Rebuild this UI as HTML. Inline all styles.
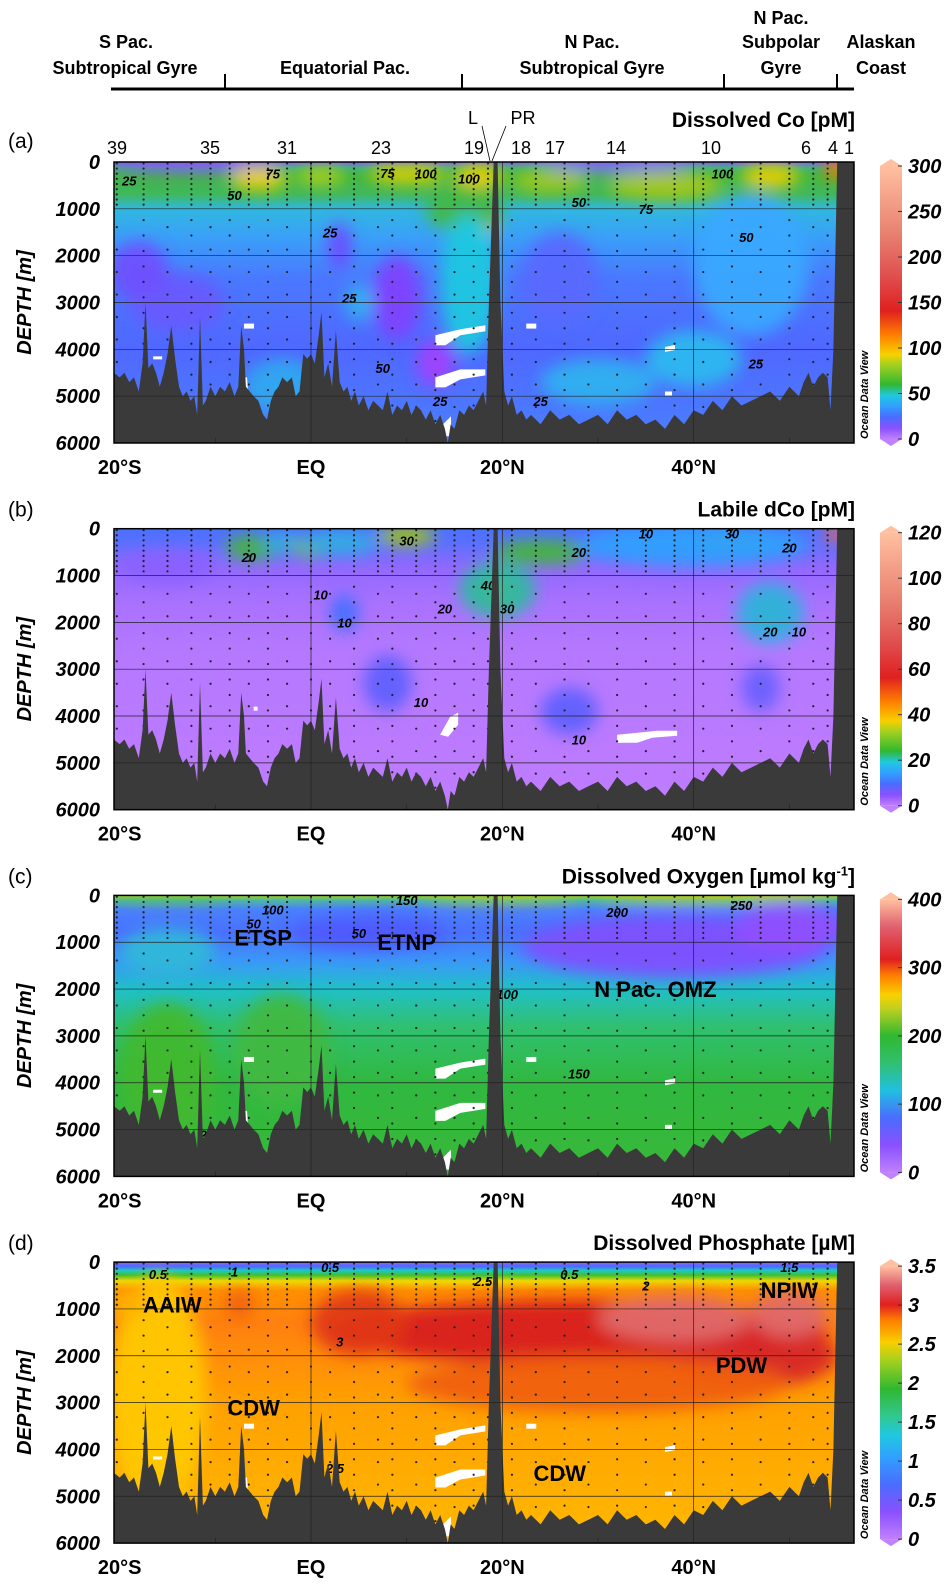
<!DOCTYPE html>
<html><head><meta charset="utf-8">
<style>
html,body{margin:0;padding:0;background:#fff;}
svg{display:block;font-family:"Liberation Sans",Arial,sans-serif;}
</style></head>
<body>
<svg id="fig" width="948" height="1587" viewBox="0 0 948 1587" xmlns="http://www.w3.org/2000/svg">
<defs>
<filter id="blur" x="-50%" y="-50%" width="200%" height="200%"><feGaussianBlur stdDeviation="8"/></filter>
<linearGradient id="cmapab" x1="0" y1="1" x2="0" y2="0">
<stop offset="0" stop-color="#c080ff"/><stop offset="0.04" stop-color="#8a50ff"/><stop offset="0.08" stop-color="#4a6cff"/>
<stop offset="0.12" stop-color="#30a0ff"/><stop offset="0.16" stop-color="#20c8e0"/><stop offset="0.2" stop-color="#30b830"/>
<stop offset="0.27" stop-color="#a0d020"/><stop offset="0.31" stop-color="#f8d000"/><stop offset="0.38" stop-color="#ff8000"/>
<stop offset="0.47" stop-color="#e02020"/><stop offset="0.6" stop-color="#e05050"/><stop offset="0.75" stop-color="#e88070"/>
<stop offset="1" stop-color="#ffc0a0"/>
</linearGradient>
<linearGradient id="cmapc" x1="0" y1="1" x2="0" y2="0">
<stop offset="0" stop-color="#c080ff"/><stop offset="0.1" stop-color="#8a50ff"/><stop offset="0.2" stop-color="#4a6cff"/>
<stop offset="0.3" stop-color="#20c0e0"/><stop offset="0.4" stop-color="#30c070"/><stop offset="0.5" stop-color="#30b830"/>
<stop offset="0.6" stop-color="#c0d020"/><stop offset="0.65" stop-color="#f8d000"/><stop offset="0.72" stop-color="#ff8000"/>
<stop offset="0.78" stop-color="#e02020"/><stop offset="0.9" stop-color="#e06070"/><stop offset="1" stop-color="#ffc0a0"/>
</linearGradient>
<linearGradient id="cmapd" x1="0" y1="1" x2="0" y2="0">
<stop offset="0" stop-color="#c080ff"/><stop offset="0.1" stop-color="#8a50ff"/><stop offset="0.2" stop-color="#4a6cff"/>
<stop offset="0.3" stop-color="#30a0ff"/><stop offset="0.38" stop-color="#20c8e0"/><stop offset="0.45" stop-color="#30c890"/>
<stop offset="0.55" stop-color="#30b830"/><stop offset="0.65" stop-color="#a0d020"/><stop offset="0.72" stop-color="#f8d000"/>
<stop offset="0.8" stop-color="#ff8000"/><stop offset="0.86" stop-color="#e02020"/><stop offset="0.93" stop-color="#e06070"/>
<stop offset="1" stop-color="#ffc0a0"/>
</linearGradient>
</defs>
<g font-weight="bold" font-size="18" text-anchor="middle" fill="#000">
<text x="126" y="48">S Pac.</text>
<text x="125" y="74">Subtropical Gyre</text>
<text x="345" y="74">Equatorial Pac.</text>
<text x="592" y="48">N Pac.</text>
<text x="592" y="74">Subtropical Gyre</text>
<text x="781" y="24">N Pac.</text>
<text x="781" y="48">Subpolar</text>
<text x="781" y="74">Gyre</text>
<text x="881" y="48">Alaskan</text>
<text x="881" y="74">Coast</text>
<line x1="111" y1="89" x2="854" y2="89" stroke="#000" stroke-width="3"/>
<g stroke="#000" stroke-width="2">
<line x1="225" y1="74" x2="225" y2="89"/><line x1="462" y1="74" x2="462" y2="89"/>
<line x1="724" y1="74" x2="724" y2="89"/><line x1="837" y1="74" x2="837" y2="89"/></g>
</g>
<g font-size="18" text-anchor="middle">
<text x="117" y="154">39</text><text x="210" y="154">35</text><text x="287" y="154">31</text><text x="381" y="154">23</text>
<text x="474" y="154">19</text><text x="521" y="154">18</text><text x="555" y="154">17</text><text x="616" y="154">14</text>
<text x="711" y="154">10</text><text x="806" y="154">6</text><text x="833" y="154">4</text><text x="849" y="154">1</text>
<text x="473" y="124">L</text><text x="523" y="124">PR</text>
<line x1="482" y1="126" x2="490" y2="161" stroke="#000" stroke-width="0.8"/>
<line x1="506" y1="126" x2="492" y2="161" stroke="#000" stroke-width="0.8"/>
</g>
<g id="panels"></g>
</svg>
<script>
// bathymetry (lat, depth m)
const bathLat=[-21,-20.6,-20,-19.5,-19,-18.5,-18,-17.6,-17.3,-17,-16.6,-16.2,-15.8,-15.4,-15,-14.6,-14.2,-13.8,-13.4,-13,-12.6,-12.2,-11.9,-11.6,-11.3,-11,-10.5,-10,-9.5,-9,-8.5,-8,-7.6,-7.3,-7,-6.8,-6.4,-6,-5.5,-5,-4.6,-4.2,-3.8,-3.4,-3,-2.5,-2,-1.6,-1.2,-0.8,-0.4,0,0.4,0.8,1.1,1.4,1.8,2.2,2.6,3,3.4,3.8,4.2,4.6,5,5.5,6,6.5,7,7.5,8,8.5,9,9.5,10,10.5,11,11.5,12,12.5,13,13.5,14,14.3,14.6,15,15.5,16,16.5,17,17.5,18,18.3,18.6,19.1,19.5,19.8,20.2,20.6,21,21.5,22,22.5,23,24,25,26,27,28,29,30,31,32,33,34,35,36,37,38,39,40,41,42,43,44,45,46,47,48,49,50,51,51.5,52,52.5,53,53.5,54,54.3,54.6,55,57];
const bathDep=[4500,4500,4600,4500,4700,4600,4900,4300,3000,4400,4300,4500,4800,4500,4100,3500,4200,4800,5000,4900,5100,5000,5400,3300,5200,5100,4800,5000,4800,4900,4700,5000,4800,3500,4000,4800,4900,5000,5100,5400,5500,5100,4900,4800,4600,4700,4600,5000,4900,4100,4200,4100,4300,3700,3200,4600,4300,4800,3600,4700,4900,4800,5100,4900,5200,5000,5300,5100,5200,5300,4900,5400,5200,5300,5100,5400,5200,5300,5500,5300,5600,5400,5700,6000,5600,5700,5300,5400,5200,5300,5100,4900,5200,3000,0,0,3000,4900,5200,5000,5400,5300,5500,5400,5600,5300,5500,5400,5600,5500,5400,5600,5300,5500,5400,5600,5500,5700,5400,5600,5300,5400,5100,5300,5000,5200,5100,5000,4900,5100,4800,5000,4700,4500,4800,4600,4500,4600,5300,4000,0,0];
// station positions (lat)
const stationLats=[-20.3,-17.5,-15,-12.5,-10.5,-8.5,-6.5,-4.5,-2.5,0,2,4.5,7,8.5,11,13,15,17,18.5,21,23.5,26.5,29,32,35,38,41,44,47,50,52.5,54];
// colorbar ticks
const ticksA=[0,50,100,150,200,250,300];
const ticksB=[0,20,40,60,80,100,120];
const ticksC=[0,100,200,300,400];
const ticksD=[0,0.5,1,1.5,2,2.5,3,3.5];
const depthTicks=[0,1000,2000,3000,4000,5000,6000];
const latTicks=[-20,0,20,40];
const latTickLabels=['20°S','EQ','20°N','40°N'];

const NS='http://www.w3.org/2000/svg';
const X0=311, PXDEG=9.567, LEFT=114, RIGHT=854, H=281;
function xs(lat){return X0+lat*PXDEG;}
function ys(top,d){return top+d/6000*H;}
function mk(tag,attrs,parent){const e=document.createElementNS(NS,tag);for(const k in attrs)e.setAttribute(k,attrs[k]);parent.appendChild(e);return e;}

const panels=[
 {id:'a',title:'Dissolved Co [pM]',ticks:ticksA,max:300,cmap:'cmapab',
  grad:[[0,'#8858ff'],[120,'#40b080'],[300,'#40b840'],[700,'#40b860'],[1000,'#30b8e0'],[1600,'#3aa0f8'],[2500,'#4a78ff'],[4000,'#5068ff'],[6000,'#4a80ff']],
  blobs:[[-12,60,9,150,'#9050ff'],[32,60,8,150,'#8a60ff'],[-5.5,350,3,250,'#f0d000'],[1,300,2.5,200,'#b0d020'],[10,250,4,200,'#e8d000'],[17.5,300,2.5,250,'#f0d000'],[18,1250,1.5,300,'#e8c000'],[16,1000,4,500,'#40b840'],[25,400,4,250,'#a0c820'],[37,500,6,300,'#a8c820'],[48,300,3,250,'#f0d000'],[55,150,1.5,200,'#ff7000'],
   [9,2900,2.5,900,'#8040ff'],[13,4300,2,500,'#a040ff'],[3,1800,1.2,500,'#7048ff'],[-14,3000,5,600,'#6858ff'],[-18,2300,3,600,'#7050ff'],[16.5,2600,3,1500,'#20c8e0'],[5,3000,1.5,400,'#30b0f0'],[26,2500,4,1000,'#5868ff'],[46,2200,6,1500,'#3aa8ff'],[-3,4800,4,600,'#30a8f0'],[30,4700,6,500,'#30b0f0'],[40,4200,5,600,'#2ab8f0']],
  labels:[[-19,390,'25'],[-8,700,'50'],[-4,250,'75'],[8,230,'75'],[12,250,'100'],[16.5,350,'100'],[2,1500,'25'],[4,2900,'25'],[7.5,4400,'50'],[13.5,5100,'25'],[24,5100,'25'],[28,850,'50'],[35,1000,'75'],[43,250,'100'],[45.5,1600,'50'],[46.5,4300,'25']],
  whites:true},
 {id:'b',title:'Labile dCo [pM]',ticks:ticksB,max:120,cmap:'cmapab',
  grad:[[0,'#4a70ff'],[300,'#5a70ff'],[800,'#9068ff'],[1500,'#a870ff'],[2500,'#b478ff'],[6000,'#c07cff']],
  blobs:[[-6,400,3,250,'#40b830'],[-3,300,2,200,'#30b0e0'],[0,400,2,200,'#70c020'],[10,150,3,200,'#a8c800'],[3,300,4,250,'#30b0e0'],[19.5,1350,2,350,'#f0b000'],[19.5,1300,4,600,'#30b8a0'],[24,500,5,250,'#40b830'],[44,250,4,250,'#60c030'],[55,100,1.5,150,'#ff6040'],[48,1750,1.8,350,'#60b020'],[48,1800,3.5,650,'#30b0e0'],[40,350,12,450,'#30a0ff'],
   [3.5,1800,1.5,400,'#4070ff'],[8,3300,2.5,600,'#6060ff'],[27,3900,3,500,'#6060ff'],[47,3400,2,500,'#6a60ff'],[-15,800,5,350,'#8a60ff']],
  labels:[[-6.5,600,'20'],[1,1400,'10'],[3.5,2000,'10'],[10,250,'30'],[11.5,3700,'10'],[14,1700,'20'],[18.5,1200,'40'],[20.5,1700,'30'],[28,500,'20'],[28,4500,'10'],[35,100,'10'],[44,100,'30'],[48,2200,'20'],[51,2200,'10'],[50,400,'20']],
  whites:false},
 {id:'c',title:'Dissolved Oxygen [µmol kg',ticks:ticksC,max:400,cmap:'cmapc',
  grad:[[0,'#a0d020'],[100,'#50b8a0'],[300,'#4a80ff'],[800,'#4a70ff'],[1400,'#3a98f8'],[2000,'#20c0c8'],[2800,'#30c070'],[4000,'#30b840'],[6000,'#38b838']],
  blobs:[[42,40,12,80,'#f0d000'],[20,40,8,80,'#c8d020'],[-15,40,6,80,'#60c040'],[38,1100,16,650,'#8050ff'],[50,700,6,500,'#9050ff'],[6,800,8,350,'#5058ff'],[-15,1200,5,500,'#30b8d8'],[-15,3800,5,1500,'#40b830'],[-3,3300,5,1200,'#40b840']],
  labels:[[-4,300,'100'],[-6,600,'50'],[5,800,'50'],[10,100,'150'],[32,350,'200'],[45,200,'250'],[20.5,2100,'100'],[28,3800,'150'],[-10.5,5100,'200']],
  whites:true},
 {id:'d',title:'Dissolved Phosphate [µM]',ticks:ticksD,max:3.5,cmap:'cmapd',
  grad:[[0,'#9a5cff'],[90,'#4a6cff'],[180,'#20c8c0'],[280,'#40c030'],[400,'#f0d800'],[600,'#ff9000'],[1300,'#ff8010'],[3000,'#ffa000'],[6000,'#ffb800']],
  blobs:[[28,1500,26,700,'#d82020'],[5,1300,5,700,'#e03818'],[46,2000,9,700,'#d82828'],[38,1200,8,500,'#e06a6a'],[50,1100,4,500,'#e06a6a'],[30,2600,20,600,'#f06010'],[-16,2800,5,2500,'#ffc800'],[-7.5,900,1.5,300,'#f06010'],[-19,900,2,300,'#ffb000']],
  labels:[[-16,250,'0.5'],[-8,200,'1'],[2,100,'0.5'],[18,400,'2.5'],[27,250,'0.5'],[35,500,'2'],[50,100,'1.5'],[3,1700,'3'],[2.5,4400,'2.5'],[-7,4900,'2.']],
  whites:true}
];
const root=document.getElementById('panels');
panels.forEach((p,i)=>{
 const top=162+i*366.7;
 const g=mk('g',{},root);
 
 
 const cp=mk('clipPath',{id:'clip'+p.id},g);
 mk('rect',{x:LEFT,y:top,width:RIGHT-LEFT,height:H},cp);
 const lg=mk('linearGradient',{id:'bg'+p.id,gradientUnits:'userSpaceOnUse',x1:0,x2:0,y1:top,y2:top+H},g);
 p.grad.forEach(s=>mk('stop',{offset:s[0]/6000,'stop-color':s[1]},lg));
 const field=mk('g',{'clip-path':'url(#clip'+p.id+')'},g);
 
 
 mk('rect',{x:LEFT,y:top,width:RIGHT-LEFT,height:H,fill:'url(#bg'+p.id+')'},field);
 const bl=mk('g',{filter:'url(#blur)'},field);
 p.blobs.forEach(b=>{
  const e=mk('ellipse',{cx:xs(b[0]),cy:ys(top,b[1]),rx:b[2]*PXDEG,ry:b[3]/6000*H,fill:b[4],opacity:0.95},bl);
  
 });
 const wg=mk('g',{fill:'#fff'},field);
 if(p.whites){
  [[13,3700,'M0,0 l25,-6 l25,-4 l0,6 l-25,4 l-15,10 l-10,0z'],[13,4600,'M0,0 l25,-8 l25,0 l0,6 l-25,4 l-15,8 l-10,0z'],[-7,3450,'M0,0 l10,0 l0,5 l-10,0z'],[22.5,3450,'M0,0 l10,0 l0,5 l-10,0z'],[37,3950,'M0,0 l10,-2 l0,5 l-10,2z'],[37,4900,'M0,0 l7,0 l0,4 l-7,0z'],[-16.5,4150,'M0,0 l9,0 l0,3 l-9,0z'],[-7,4600,'M0,0 l3,0 l1,15 l-4,0z'],[13.8,5600,'M0,0 l8,-8 l0,20 l-8,0z']].forEach(w=>{
   const e=mk('path',{d:w[2],transform:'translate('+xs(w[0])+','+ys(top,w[1])+')'},wg);
   
  });
 } else {
  [[13.5,4400,'M0,0 l10,-18 l8,-4 l0,12 l-10,12z'],[32,4400,'M0,0 l40,-4 l20,0 l0,5 l-25,2 l-15,5 l-20,0z'],[-6,3800,'M0,0 l4,0 l0,4 l-4,0z']].forEach(w=>{
   const e=mk('path',{d:w[2],transform:'translate('+xs(w[0])+','+ys(top,w[1])+')'},wg);
   
  });
 }
 const dg=mk('g',{fill:'#222'},field);
 
 
 stationLats.forEach((lat,k)=>{
  for(let d=30;d<5800;d+=(d<900?110:(k%2?330:480))) mk('circle',{cx:xs(lat),cy:ys(top,d),r:1.1},dg);
 });
 const cl=mk('g',{'font-size':13,'font-style':'italic','font-weight':'bold','text-anchor':'middle',fill:'#000'},field);
 p.labels.forEach(l=>{
  const t=mk('text',{x:xs(l[0]),y:ys(top,l[1])+5},cl);t.textContent=l[2];
  
  
 });
 let d='M'+xs(bathLat[0])+','+(top+H+2);
 bathLat.forEach((lat,k)=>{d+=' L'+xs(lat).toFixed(1)+','+ys(top,bathDep[k]).toFixed(1);});
 d+=' L'+xs(bathLat[bathLat.length-1])+','+(top+H+2)+'Z';
 const bp=mk('path',{d:d,fill:'#3a3a3a'},field);
 
 
 const gg=mk('g',{stroke:'#222','stroke-width':0.7},g);
 
 
 depthTicks.slice(1,6).forEach(dd=>mk('line',{x1:LEFT,x2:RIGHT,y1:ys(top,dd),y2:ys(top,dd)},gg));
 latTicks.slice(1).forEach(lat=>mk('line',{x1:xs(lat),x2:xs(lat),y1:top,y2:top+H},gg));
 [-10,10,30,50].forEach(lat=>mk('line',{x1:xs(lat),x2:xs(lat),y1:top+H-5,y2:top+H},gg));
 const fr=mk('rect',{x:LEFT,y:top,width:RIGHT-LEFT,height:H,fill:'none',stroke:'#000','stroke-width':1.5},g);
 
 
 depthTicks.forEach(dd=>{
  const t=mk('text',{x:100,y:ys(top,dd)+7,'text-anchor':'end','font-size':20,'font-weight':'bold','font-style':'italic'},g);
  t.textContent=String(dd);
  
  
 });
 const yt=mk('text',{x:0,y:0,'text-anchor':'middle','font-size':20,'font-weight':'bold','font-style':'italic',transform:'translate(31,'+(top+H/2)+') rotate(-90)'},g);
 yt.textContent='DEPTH [m]';
 
 
 latTicks.forEach((lat,k)=>{
  const t=mk('text',{x:xs(lat),y:top+H+31,'text-anchor':'middle','font-size':20,'font-weight':'bold'},g);
  t.textContent=latTickLabels[k];
  
  
 });
 const pl=mk('text',{x:8,y:i===0?top-14:top-12,'font-size':21},g);
 pl.textContent='('+p.id+')';
 
 
 const tt=mk('text',{x:855,y:i===0?top-35:top-12,'text-anchor':'end','font-size':21,'font-weight':'bold'},g);
 
 
 if(i===2){
  tt.appendChild(document.createTextNode(p.title));
  const sup=mk('tspan',{'font-size':13,dy:-8},tt);sup.textContent='-1';
  const cls=mk('tspan',{dy:8},tt);cls.textContent=']';
 } else tt.textContent=p.title;
 const cb=mk('g',{},g);
 
 
 mk('rect',{x:880,y:top+4,width:22,height:H-8,fill:'url(#'+p.cmap+')'},cb);
 mk('path',{d:'M880,'+(top+4)+' L891,'+(top-3)+' L902,'+(top+4)+'Z',fill:'#ffc0a0'},cb);
 mk('path',{d:'M880,'+(top+H-4)+' L891,'+(top+H+3)+' L902,'+(top+H-4)+'Z',fill:'#c080ff'},cb);
 p.ticks.forEach(v=>{
  const yy=top+4+(H-8)*(1-v/p.max);
  mk('line',{x1:898,x2:902,y1:yy,y2:yy,stroke:'#333'},cb);
  const t=mk('text',{x:908,y:yy+7,'font-size':20,'font-weight':'bold','font-style':'italic'},cb);
  t.textContent=String(v);
  
  
 });
 const od=mk('text',{x:0,y:0,'font-size':11,'font-weight':'bold','font-style':'italic','text-anchor':'start',transform:'translate(868,'+(top+H-4)+') rotate(-90)'},g);
 od.textContent='Ocean Data View';
 
 
});
const ann=[[2,-5,900,'ETSP'],[2,10,1000,'ETNP'],[2,36,2000,'N Pac. OMZ'],[3,-14.5,900,'AAIW'],[3,-6,3100,'CDW'],[3,26,4500,'CDW'],[3,45,2200,'PDW'],[3,50,600,'NPIW']];
ann.forEach(a=>{
 const top=162+a[0]*366.7;
 const t=document.createElementNS(NS,'text');
 t.setAttribute('x',xs(a[1]));t.setAttribute('y',ys(top,a[2])+8);
 t.setAttribute('text-anchor','middle');t.setAttribute('font-size',22);t.setAttribute('font-weight','bold');
 t.textContent=a[3];
 
 
 root.appendChild(t);
});
</script>
</body></html>
